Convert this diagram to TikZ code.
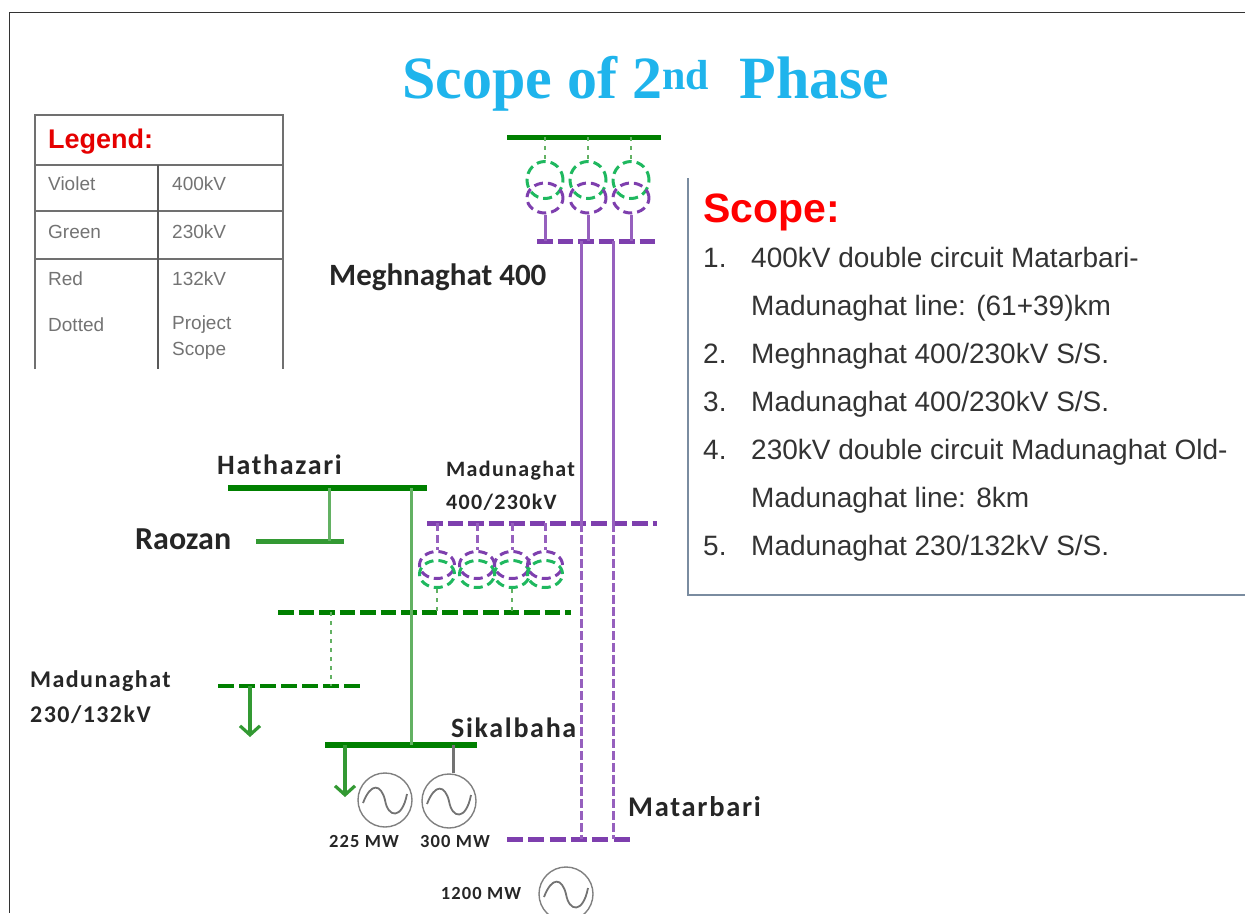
\documentclass[tikz,border=0pt]{standalone}
\usepackage{fontspec}
\setmainfont{Liberation Sans}
\newfontfamily\calib[LetterSpace=6]{Carlito}
\newfontfamily\calibtight{Carlito}
\newfontfamily\titlefont{Liberation Serif}
\usetikzlibrary{calc,shapes.geometric,arrows.meta}

\definecolor{busgreen}{HTML}{008000}
\definecolor{linegreen}{HTML}{63B163}
\definecolor{ringgreen}{HTML}{1FB85F}
\definecolor{busviolet}{HTML}{7E3FAE}
\definecolor{lineviolet}{HTML}{9660BE}
\definecolor{titlecyan}{HTML}{1FB4EC}
\definecolor{tablegray}{HTML}{707070}
\definecolor{boxgray}{HTML}{7A8CA0}

\tikzset{
  lbl/.style={font=\calib\bfseries\fontsize{#1}{#1}\selectfont,text=black!85,inner sep=0pt},
  lblbig/.style={font=\calibtight\bfseries\fontsize{#1}{#1}\selectfont,text=black!85,inner sep=0pt},
  legtext/.style={font=\fontsize{19}{19}\selectfont,text=black!55,inner sep=0pt,anchor=west},
  scopetext/.style={font=\fontsize{28}{28}\selectfont,text=black!80,inner sep=0pt,anchor=base west},
  greenbus/.style={draw=busgreen,line width=6pt},
  greendash/.style={draw=busgreen,line width=5pt,dash pattern=on 15.5pt off 5pt},
  violetdash/.style={draw=busviolet,line width=5pt,dash pattern=on 15.5pt off 5pt},
  greenline/.style={draw=linegreen,line width=3pt},
  greendot/.style={draw=linegreen,line width=2.6pt,dash pattern=on 4pt off 5pt},
  violetline/.style={draw=lineviolet,line width=3pt},
  violetdashed/.style={draw=lineviolet,line width=3pt,dash pattern=on 9pt off 3pt},
  ringg/.style={draw=ringgreen,line width=3pt,dash pattern=on 9pt off 5pt,ellipse,inner sep=0pt,minimum width=36pt},
  ringv/.style={draw=busviolet,line width=3pt,dash pattern=on 9pt off 5pt,ellipse,inner sep=0pt,minimum width=36pt},
  gensym/.style={draw=black!50,line width=1.4pt,circle,inner sep=0pt,minimum size=54pt},
  loadarrow/.style={draw=busgreen!80,line width=3.2pt,-{Straight Barb[length=9pt,width=20pt]}},
}

\begin{document}
\begin{tikzpicture}[x=1pt,y=-1pt]
      \useasboundingbox (0,0) rectangle (1245,913);
      \draw[black!80,line width=1pt] (1245,12) -- (9,12) -- (9,913);

      \node[inner sep=0pt,text=titlecyan,font=\titlefont\bfseries\fontsize{60}{60}\selectfont] (title) at (646,84) {Scope of 2\textsuperscript{nd}\ \ Phase};

      % legend
      \draw[tablegray,line width=2pt] (35,369) -- (35,115) -- (283,115) -- (283,369);
      \draw[tablegray,line width=2pt] (35,165) -- (283,165) (35,211) -- (283,211) (35,259) -- (283,259);
      \draw[black!65,line width=2.2pt] (158,165) -- (158,369);
      \node[inner sep=0pt,anchor=west,text=red!90!black,font=\bfseries\fontsize{27}{27}\selectfont] (legend) at (48,142) {Legend:};
      \node[legtext] (lv) at (48,184) {Violet};
      \node[legtext] (lg) at (48,232) {Green};
      \node[legtext] (lr) at (48,279) {Red};
      \node[legtext] (ld) at (48,325) {Dotted};
      \node[legtext] (lv2) at (172,184) {400kV};
      \node[legtext] (lg2) at (172,232) {230kV};
      \node[legtext] (lr2) at (172,279) {132kV};
      \node[legtext] (ld2) at (172,325) {Project};
      \node[legtext] (ld3) at (172,351) {Scope};

      % scope box
      \draw[boxgray,line width=2.4pt] (688,178) -- (688,595) -- (1245,595);
      \node[inner sep=0pt,anchor=west,text=red,font=\bfseries\fontsize{41}{41}\selectfont] (scope) at (703,212) {Scope:};
      \node[scopetext] (n1) at (703,267) {1.};
      \node[scopetext] (s1) at (751,267) {400kV double circuit Matarbari-};
      \node[scopetext] (s1b) at (751,315) {Madunaghat line: (61+39)km};
      \node[scopetext] (n2) at (703,363) {2.};
      \node[scopetext] (s2) at (751,363) {Meghnaghat 400/230kV S/S.};
      \node[scopetext] (n3) at (703,411) {3.};
      \node[scopetext] (s3) at (751,411) {Madunaghat 400/230kV S/S.};
      \node[scopetext] (n4) at (703,459) {4.};
      \node[scopetext] (s4) at (751,459) {230kV double circuit Madunaghat Old-};
      \node[scopetext] (s4b) at (751,507) {Madunaghat line: 8km};
      \node[scopetext] (n5) at (703,555) {5.};
      \node[scopetext] (s5) at (751,555) {Madunaghat 230/132kV S/S.};

      % busbars
      \coordinate (meg1) at (507,137); \coordinate (meg2) at (661,137);
      \coordinate (mv1) at (537,241); \coordinate (mv2) at (657,241);
      \coordinate (hat1) at (228,488); \coordinate (hat2) at (427,488);
      \coordinate (rao1) at (256,541); \coordinate (rao2) at (344,541);
      \coordinate (mad1) at (427,523); \coordinate (mad2) at (657,523);
      \coordinate (mg1) at (278,612); \coordinate (mg2) at (571,612);
      \coordinate (low1) at (218,686); \coordinate (low2) at (362,686);
      \coordinate (sik1) at (325,745); \coordinate (sik2) at (477,745);
      \coordinate (mat1) at (507,839); \coordinate (mat2) at (630,839);
      \draw[greenbus,line width=5pt] (meg1) -- (meg2);
      \draw[violetdash] (mv1) -- (mv2);
      \draw[greenbus] (hat1) -- (hat2);
      \draw[greenbus,line width=5pt,draw=busgreen!80] (rao1) -- (rao2);
      \draw[violetdash] (mad1) -- (mad2);
      \draw[greendash] (mg1) -- (mg2);
      \draw[greendash,line width=4pt,dash pattern=on 16pt off 5pt] (low1) -- (low2);
      \draw[greenbus] (sik1) -- (sik2);
      \draw[violetdash,dash pattern=on 16pt off 5.3pt] (mat1) -- (mat2);

      % transformers
      \foreach \i/\x in {1/545,2/588,3/631}{
        \node[ringg,minimum height=37pt] (tg\i) at (\x,180) {};
        \node[ringv,minimum height=30pt] (tv\i) at (\x,198) {};
        \draw[greendot] (tg\i.north |- meg1) -- (tg\i.north);
        \draw[violetline] (tv\i.south) -- (tv\i.south |- mv1);
      }
      \foreach \i/\x in {1/437,2/477,3/512,4/545}{
        \node[ringv,minimum width=35pt,minimum height=27pt] (bv\i) at (\x,565) {};
        \node[ringg,minimum width=35pt,minimum height=27pt] (bg\i) at (\x,574) {};
        \draw[violetline,dash pattern=on 8pt off 4pt] (bv\i.north |- mad1) -- (bv\i.north);
      }
      \draw[greendot] (bg1.south) -- (bg1.south |- mg1);
      \draw[greendot] (bg3.south) -- (bg3.south |- mg1);

      % lines
      \coordinate (a1) at (581,241); \coordinate (a2) at (581,523); \coordinate (a3) at (581,839);
      \coordinate (b1) at (613,241); \coordinate (b2) at (613,523); \coordinate (b3) at (613,839);
      \path[violetline] (a1) edge (a2) (b1) edge (b2);
      \path[violetdashed] (a2) edge (a3) (b2) edge (b3);
      \coordinate (c1) at (329.5,488); \coordinate (c2) at (329.5,541);
      \coordinate (d1) at (411,488); \coordinate (d2) at (411,745);
      \coordinate (e1) at (331,612); \coordinate (e2) at (331,686);
      \path[greenline] (c1) edge (c2) (d1) edge (d2);
      \path[greendot] (e1) edge (e2);

      % loads
      \coordinate (f1) at (250,686); \coordinate (f2) at (250,737);
      \coordinate (g1) at (345,745); \coordinate (g2) at (345,797);
      \draw[loadarrow] (f1) -- (f2);
      \draw[loadarrow] (g1) -- (g2);

      % generators
      \foreach \n/\x/\y in {g225/385/800,g300/449/801,g1200/566/894}{
        \node[gensym] (\n) at (\x,\y) {};
        \draw[black!55,line width=1.8pt] ($(\n.center)+(-22,3)$) .. controls ($(\n.center)+(-14,-18)$) and ($(\n.center)+(-4,-16)$) .. (\n.center) .. controls ($(\n.center)+(3,18)$) and ($(\n.center)+(17,20)$) .. ($(\n.center)+(22,-6)$);
      }
      \coordinate (h1) at (453,745);
      \draw[black!55,line width=3pt] (h1) -- (h1 |- g300.north);

      % labels
      \node[lblbig=31,anchor=west] (megh) at (329,277) {Meghnaghat 400};
      \node[lbl=28,anchor=west] (hath) at (217,465) {Hathazari};
      \node[lblbig=32,anchor=west] (raoz) at (135,539) {Raozan};
      \node[lbl=22,anchor=west] (mad400) at (446,471) {Madunaghat};
      \node[lbl=22,anchor=west] (mad400b) at (446,502) {400/230kV};
      \node[lbl=24,anchor=west] (mad230) at (30,681) {Madunaghat};
      \node[lbl=24,anchor=west] (mad230b) at (30,715) {230/132kV};
      \node[lbl=28,anchor=west] (sik) at (451,728) {Sikalbaha};
      \node[lbl=28.5,anchor=west] (mata) at (628,807) {Matarbari};
      \node[lbl=18.5] (w225) at (364,841) {225 MW};
      \node[lbl=18.5] (w300) at (455,841) {300 MW};
      \node[lbl=18.5] (w1200) at (481,893) {1200 MW};
    \end{tikzpicture}
\end{document}
